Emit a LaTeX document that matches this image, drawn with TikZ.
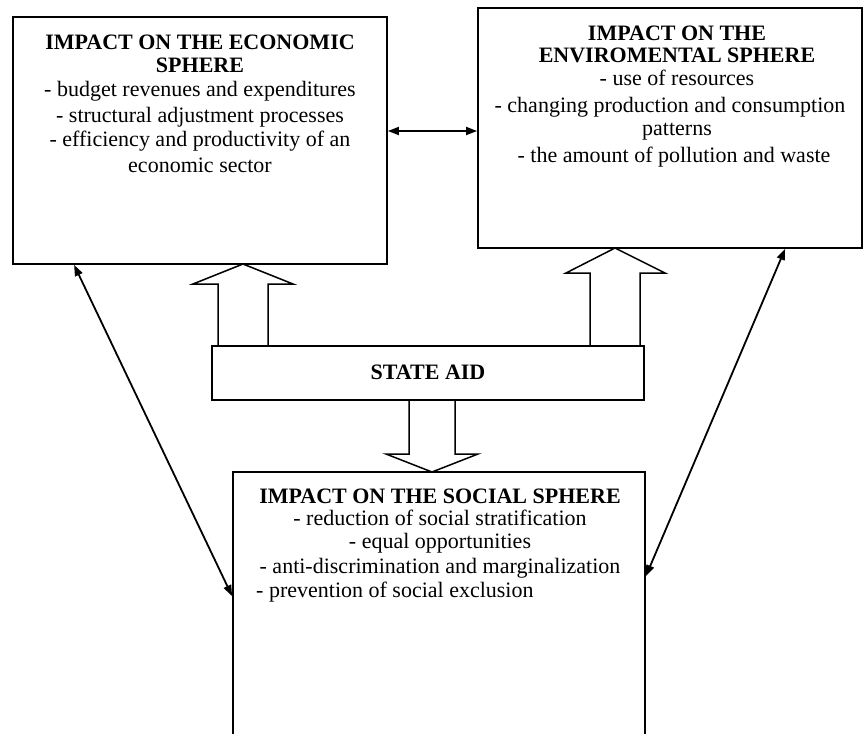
\documentclass[tikz,border=0pt]{standalone}
\usepackage{fontspec}
\setmainfont{Liberation Serif}
\usetikzlibrary{arrows.meta,calc}
\begin{document}
\begin{tikzpicture}[x=1pt,y=-1pt,
  box/.style={draw,line width=1.8pt,rectangle,inner sep=0pt},
  ttl/.style={font=\fontsize{22}{22}\selectfont\bfseries,anchor=base,inner sep=0pt},
  txt/.style={font=\fontsize{22}{22}\selectfont,anchor=base,inner sep=0pt},
  blk/.style={draw,line width=1.5pt,line join=miter},
  link/.style={line width=1.8pt,{Triangle[length=11pt,width=8pt]}-{Triangle[length=11pt,width=8pt]}}]
\useasboundingbox (0,0) rectangle (868,734);
\clip (0,0) rectangle (868,734);
% boxes
\node[box,minimum width=374pt,minimum height=247pt] (econ) at (200,140.5) {};
\node[box,minimum width=384pt,minimum height=240pt] (env) at (670,128) {};
\node[box,minimum width=432pt,minimum height=54pt] (state) at (428,373) {};
\node[box,minimum width=412pt,minimum height=288pt] (social) at (439,616) {};
% block arrows
\draw[blk] (218,346) -- (218,284) -- (193,284) -- (243,264) -- (293,284) -- (268,284) -- (268,346);
\draw[blk] (590,346) -- (590,273) -- (566,273) -- (615,248) -- (665,273) -- (640,273) -- (640,346);
\draw[blk] (409,400) -- (409,454) -- (386,454) -- (432,472) -- (478,454) -- (455,454) -- (455,400);
% connectors
\draw[link] (econ.east |- 0,131) -- (env.west |- 0,131);
\draw[link] ($(econ.south west)+(62,0)$) -- ($(social.north west)+(0,125)$);
\draw[link] ($(env.south west)+(308,0)$) -- ($(social.north east)+(0,105)$);
% economic text
\node[ttl] (e1) at (200,49) {IMPACT ON THE ECONOMIC};
\node[ttl] (e2) at (200,72) {SPHERE};
\node[txt] (e3) at (200,96) {- budget revenues and expenditures};
\node[txt] (e4) at (200,122) {- structural adjustment processes};
\node[txt] (e5) at (200,146) {- efficiency and productivity of an};
\node[txt] (e6) at (200,172) {economic sector};
% environmental text
\node[ttl] (v1) at (677,40) {IMPACT ON THE};
\node[ttl] (v2) at (677,62) {ENVIROMENTAL SPHERE};
\node[txt] (v3) at (677,85) {- use of resources};
\node[txt] (v4) at (670,112) {- changing production and consumption};
\node[txt] (v5) at (677,135) {patterns};
\node[txt] (v6) at (674,162) {- the amount of pollution and waste};
% state aid
\node[ttl] (s1) at (428,379) {STATE AID};
% social text
\node[ttl] (o1) at (440,503) {IMPACT ON THE SOCIAL SPHERE};
\node[txt] (o2) at (440,525) {- reduction of social stratification};
\node[txt] (o3) at (440,548) {- equal opportunities};
\node[txt] (o4) at (440,573) {- anti-discrimination and marginalization};
\node[txt,anchor=base west] (o5) at (256,597) {- prevention of social exclusion};
\end{tikzpicture}
\end{document}
